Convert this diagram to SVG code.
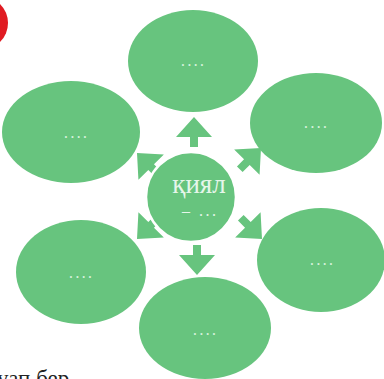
<svg xmlns="http://www.w3.org/2000/svg" width="384" height="379" viewBox="0 0 384 379">
<style>
.node{fill:#67c47e}
.dots{font-family:"Liberation Sans",Arial,sans-serif;font-size:12px;font-weight:bold;fill:#d2f0d9;text-anchor:middle;letter-spacing:3px}
.arrow{fill:#67c47e}
.ctext{font-family:"Liberation Serif","Times New Roman",serif;fill:#e6f6ea}
</style>
<defs>
<polygon id="arr" points="0,0 18,20 4,20 4,30 -4,30 -4,20 -18,20"/>
</defs>
<rect width="384" height="379" fill="#ffffff"/>
<circle cx="-18.6" cy="23" r="26.6" fill="#e01b22"/>
<g id="connectors" class="arrow">
<use href="#arr" transform="translate(194,117)"/>
<use href="#arr" transform="translate(261,148) rotate(45)"/>
<use href="#arr" transform="translate(262,239) rotate(135)"/>
<use href="#arr" transform="translate(197,275) rotate(180)"/>
<use href="#arr" transform="translate(137,239) rotate(225)"/>
<use href="#arr" transform="translate(137,153) rotate(-45)"/>
</g>
<g id="center">
<circle cx="191" cy="197" r="45" class="node" stroke="#ffffff" stroke-width="2.5"/>
<text x="199" y="193" class="ctext" font-size="27" text-anchor="middle">қиял</text>
<text x="182" y="216" class="ctext" font-size="16" letter-spacing="2.5">– ...</text>
</g>
<g id="top"><ellipse cx="193" cy="61" rx="65" ry="51" class="node"/><text x="194" y="66" class="dots">....</text></g>
<g id="upper-left"><ellipse cx="71" cy="132" rx="69" ry="51" class="node"/><text x="77" y="138" class="dots">....</text></g>
<g id="upper-right"><ellipse cx="316" cy="123" rx="66" ry="50" class="node"/><text x="317" y="128" class="dots">....</text></g>
<g id="lower-left"><ellipse cx="81" cy="272" rx="65" ry="52" class="node"/><text x="82" y="278" class="dots">....</text></g>
<g id="lower-right"><ellipse cx="321" cy="260" rx="64" ry="52" class="node"/><text x="323" y="265" class="dots">....</text></g>
<g id="bottom"><ellipse cx="205" cy="328" rx="66" ry="51" class="node"/><text x="206" y="335" class="dots">....</text></g>
<text x="-3" y="386" font-family="'Liberation Serif','Times New Roman',serif" font-size="23" fill="#222222">уап бер</text>
</svg>
